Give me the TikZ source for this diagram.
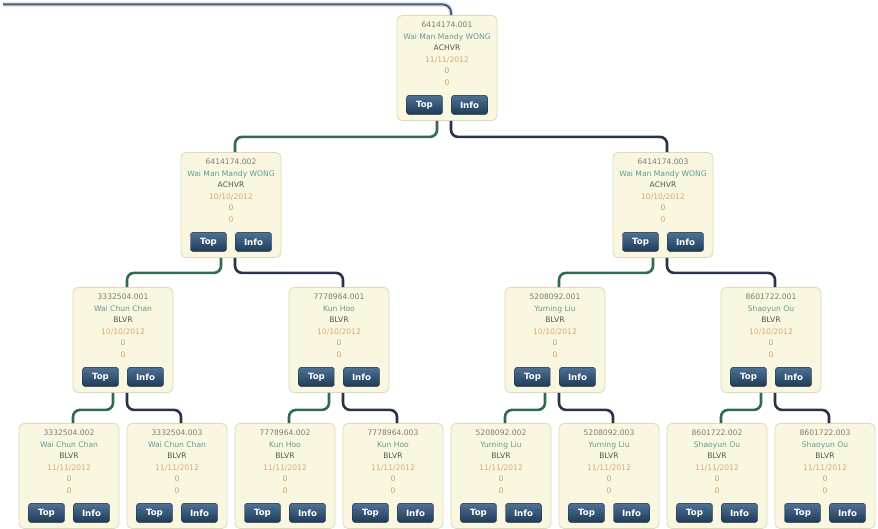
\documentclass[tikz,border=0pt]{standalone}
\usepackage{fontspec}
\setmainfont{DejaVu Sans}
\usetikzlibrary{positioning}

\definecolor{cardfill}{HTML}{FAF7E1}
\definecolor{cardedge}{HTML}{DDD8BE}
\definecolor{idgray}{HTML}{7C7C74}
\definecolor{nameteal}{HTML}{5E9C8E}
\definecolor{rankdark}{HTML}{55554E}
\definecolor{dateorange}{HTML}{D9A677}
\definecolor{zerogreen}{HTML}{98B28E}
\definecolor{zeroorange}{HTML}{DDA45C}
\definecolor{btntop}{HTML}{4D7296}
\definecolor{btnbot}{HTML}{1F3A55}
\definecolor{btnedge}{HTML}{18283C}
\definecolor{lgreen}{HTML}{2E6B55}
\definecolor{lnavy}{HTML}{27334B}
\definecolor{feedcol}{HTML}{4B586C}
\definecolor{feedglow}{HTML}{DCE8F3}

% one member card: name, placement, id, person, rank, date
\newcommand{\member}[6]{%
	\node[card,#2] (#1) {};
	\node[cardtext,anchor=north] (#1-txt) at ([yshift=-7pt]#1.north)
		{\textcolor{idgray}{#3}\\\textcolor{nameteal}{#4}\\\textcolor{rankdark}{#5}\\
		 \textcolor{dateorange}{#6}\\\textcolor{zerogreen}{0}\\\textcolor{zeroorange}{0}};
	\node[btn] (#1-top) at ([xshift=-22.5pt,yshift=16pt]#1.south) {Top};
	\node[btn] (#1-info) at ([xshift=22.5pt,yshift=16pt]#1.south) {Info};
}

\begin{document}
\begin{tikzpicture}[x=1pt,y=1pt,on grid,
		card/.style={draw=cardedge,fill=cardfill,rounded corners=5pt,line width=0.8pt,
			minimum width=100pt,minimum height=105pt,inner sep=0pt},
		cardtext/.style={align=center,inner sep=0pt,font=\fontsize{7.6}{11.5}\selectfont},
		btn/.style={draw=btnedge,top color=btntop,bottom color=btnbot,rounded corners=2.5pt,
			minimum width=36pt,minimum height=19pt,inner sep=0pt,text=white,
			font=\fontsize{8.6}{8.6}\selectfont\bfseries},
		gline/.style={draw=lgreen,line width=2.6pt,rounded corners=7pt},
		nline/.style={draw=lnavy,line width=2.6pt,rounded corners=7pt}]
			\useasboundingbox (0,0) rectangle (878,-529);
			\member{root}{at={(447,-68)}}{6414174.001}{Wai Man Mandy WONG}{ACHVR}{11/11/2012}
			\member{l}{below left=137pt and 216pt of root}{6414174.002}{Wai Man Mandy WONG}{ACHVR}{10/10/2012}
			\member{r}{below right=137pt and 216pt of root}{6414174.003}{Wai Man Mandy WONG}{ACHVR}{10/10/2012}
			\member{ll}{below left=135pt and 108pt of l}{3332504.001}{Wai Chun Chan}{BLVR}{10/10/2012}
			\member{lr}{below right=135pt and 108pt of l}{7778964.001}{Kun Hoo}{BLVR}{10/10/2012}
			\member{rl}{below left=135pt and 108pt of r}{5208092.001}{Yuming Liu}{BLVR}{10/10/2012}
			\member{rr}{below right=135pt and 108pt of r}{8601722.001}{Shaoyun Ou}{BLVR}{10/10/2012}
			\member{lll}{below left=136pt and 54pt of ll}{3332504.002}{Wai Chun Chan}{BLVR}{11/11/2012}
			\member{llr}{below right=136pt and 54pt of ll}{3332504.003}{Wai Chun Chan}{BLVR}{11/11/2012}
			\member{lrl}{below left=136pt and 54pt of lr}{7778964.002}{Kun Hoo}{BLVR}{11/11/2012}
			\member{lrr}{below right=136pt and 54pt of lr}{7778964.003}{Kun Hoo}{BLVR}{11/11/2012}
			\member{rll}{below left=136pt and 54pt of rl}{5208092.002}{Yuming Liu}{BLVR}{11/11/2012}
			\member{rlr}{below right=136pt and 54pt of rl}{5208092.003}{Yuming Liu}{BLVR}{11/11/2012}
			\member{rrl}{below left=136pt and 54pt of rr}{8601722.002}{Shaoyun Ou}{BLVR}{11/11/2012}
			\member{rrr}{below right=136pt and 54pt of rr}{8601722.003}{Shaoyun Ou}{BLVR}{11/11/2012}
			% line coming in from the upline
			\coordinate (feed) at (3,-4.5);
			\draw[feedglow,line width=5pt,rounded corners=8pt] (feed) -| ([xshift=4pt]root.north);
			\draw[feedcol,line width=2pt,rounded corners=8pt] (feed) -| ([xshift=4pt]root.north);
			% left legs green, right legs navy
			\draw[gline] ([xshift=-10pt]root.south) -- ++(0,-16) -| ([xshift=4pt]l.north);
			\draw[nline] ([xshift=4pt]root.south) -- ++(0,-16) -| ([xshift=4pt]r.north);
			\draw[gline] ([xshift=-10pt]l.south) -- ++(0,-15) -| ([xshift=4pt]ll.north);
			\draw[nline] ([xshift=4pt]l.south) -- ++(0,-15) -| ([xshift=4pt]lr.north);
			\draw[gline] ([xshift=-10pt]r.south) -- ++(0,-15) -| ([xshift=4pt]rl.north);
			\draw[nline] ([xshift=4pt]r.south) -- ++(0,-15) -| ([xshift=4pt]rr.north);
			\draw[gline] ([xshift=-10pt]ll.south) -- ++(0,-17) -| ([xshift=4pt]lll.north);
			\draw[nline] ([xshift=4pt]ll.south) -- ++(0,-17) -| ([xshift=4pt]llr.north);
			\draw[gline] ([xshift=-10pt]lr.south) -- ++(0,-17) -| ([xshift=4pt]lrl.north);
			\draw[nline] ([xshift=4pt]lr.south) -- ++(0,-17) -| ([xshift=4pt]lrr.north);
			\draw[gline] ([xshift=-10pt]rl.south) -- ++(0,-17) -| ([xshift=4pt]rll.north);
			\draw[nline] ([xshift=4pt]rl.south) -- ++(0,-17) -| ([xshift=4pt]rlr.north);
			\draw[gline] ([xshift=-10pt]rr.south) -- ++(0,-17) -| ([xshift=4pt]rrl.north);
			\draw[nline] ([xshift=4pt]rr.south) -- ++(0,-17) -| ([xshift=4pt]rrr.north);
		\end{tikzpicture}
\end{document}
